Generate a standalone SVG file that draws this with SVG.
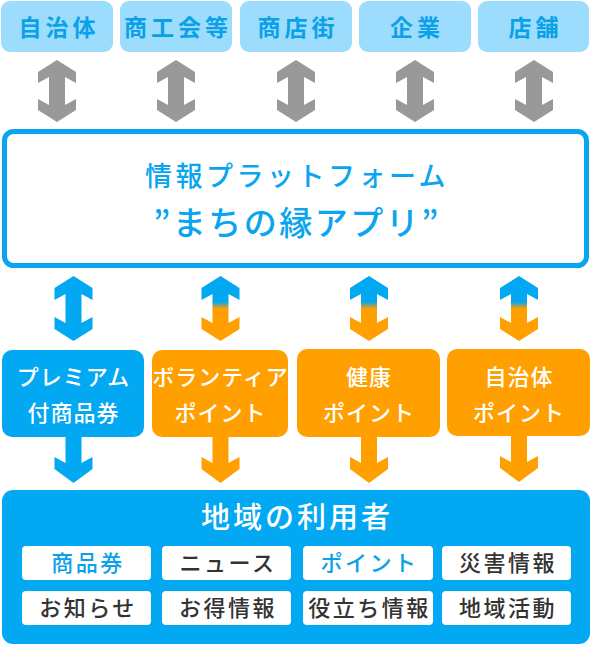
<svg xmlns="http://www.w3.org/2000/svg" width="591" height="645" viewBox="0 0 591 645">
<style>
text{font-family:"Noto Sans CJK JP","Noto Sans",sans-serif;text-anchor:middle}
.top{fill:#9cdcfd}
.toptxt{fill:#0aa1e8;font-size:23px;font-weight:700;letter-spacing:4px}
.main{fill:#fff;stroke:#0aa5f0;stroke-width:5}
.mtxt{fill:#0aa5f0;font-weight:500}
.blue{fill:#02a8f2}
.orange{fill:#ffa000}
.wtxt{fill:#fff;font-size:22px;font-weight:500;letter-spacing:1px}
.chip{fill:#fff}
.ctxt{font-size:22px;font-weight:500;letter-spacing:2.5px;fill:#333}
.ctxt.b{fill:#0aa1e8}
</style>
<defs>
<path id="dbl" d="M0,0 L19,12 L19,23 L8,17 L8,45 L19,39 L19,50 L0,62 L-19,50 L-19,39 L-8,45 L-8,17 L-19,23 L-19,12 Z"/>
<path id="dbl2" d="M0,0 L19,12 L19,24 L8,18 L8,47 L19,41 L19,53 L0,65 L-19,53 L-19,41 L-8,47 L-8,18 L-19,24 L-19,12 Z"/>
<path id="down" d="M-8,0 L8,0 L8,26 L19,20 L19,32 L0,46 L-19,32 L-19,20 L-8,26 Z"/>
<linearGradient id="bo" x1="0" y1="0" x2="0" y2="1">
<stop offset="0.40" stop-color="#02a8f2"/>
<stop offset="0.50" stop-color="#ffa000"/>
</linearGradient>
</defs>

<g id="top-jichitai"><rect class="top" x="1" y="1" width="112" height="51" rx="9"/><text class="toptxt" x="59" y="36">自治体</text></g>
<g id="top-shokokai"><rect class="top" x="120" y="1" width="112" height="51" rx="9"/><text class="toptxt" x="178" y="36">商工会等</text></g>
<g id="top-shotengai"><rect class="top" x="240" y="1" width="112" height="51" rx="9"/><text class="toptxt" x="298" y="36">商店街</text></g>
<g id="top-kigyo"><rect class="top" x="359" y="1" width="112" height="51" rx="9"/><text class="toptxt" x="417" y="36">企業</text></g>
<g id="top-tenpo"><rect class="top" x="478" y="1" width="111" height="51" rx="9"/><text class="toptxt" x="535.5" y="36">店舗</text></g>

<g id="platform">
<rect class="main" x="4.5" y="131.5" width="582" height="134" rx="9"/>
<text class="mtxt" x="297" y="186" font-size="27" letter-spacing="3.5">情報プラットフォーム</text>
<text class="mtxt" x="297" y="235" font-size="33" letter-spacing="2.5">”まちの縁アプリ”</text>
</g>

<g id="mid-premium"><rect class="blue" x="2" y="350" width="142" height="87" rx="10"/><text class="wtxt" x="73.5" y="385">プレミアム</text><text class="wtxt" x="73.5" y="421">付商品券</text></g>
<g id="mid-volunteer"><rect class="orange" x="152" y="350" width="136" height="87" rx="10"/><text class="wtxt" x="220.5" y="385">ボランティア</text><text class="wtxt" x="220.5" y="421">ポイント</text></g>
<g id="mid-kenko"><rect class="orange" x="297" y="349" width="143" height="88" rx="10"/><text class="wtxt" x="369" y="385">健康</text><text class="wtxt" x="369" y="421">ポイント</text></g>
<g id="mid-jichitai"><rect class="orange" x="447" y="349" width="143" height="87" rx="10"/><text class="wtxt" x="519" y="385">自治体</text><text class="wtxt" x="519" y="421">ポイント</text></g>

<g id="users">
<rect class="blue" x="2" y="490" width="588" height="154" rx="11"/>
<text x="297" y="528" font-size="29" font-weight="500" letter-spacing="3" fill="#fff">地域の利用者</text>
<rect class="chip" x="22" y="546" width="129" height="34" rx="4"/><text class="ctxt b" x="88" y="571">商品券</text>
<rect class="chip" x="162" y="546" width="129" height="34" rx="4"/><text class="ctxt" x="228" y="571">ニュース</text>
<rect class="chip" x="303" y="546" width="130" height="34" rx="4"/><text class="ctxt b" x="369.5" y="571">ポイント</text>
<rect class="chip" x="442" y="546" width="129" height="34" rx="4"/><text class="ctxt" x="508" y="571">災害情報</text>
<rect class="chip" x="22" y="591" width="129" height="34" rx="4"/><text class="ctxt" x="88" y="616">お知らせ</text>
<rect class="chip" x="162" y="591" width="129" height="34" rx="4"/><text class="ctxt" x="228" y="616">お得情報</text>
<rect class="chip" x="303" y="591" width="130" height="34" rx="4"/><text class="ctxt" x="369.5" y="616">役立ち情報</text>
<rect class="chip" x="442" y="591" width="129" height="34" rx="4"/><text class="ctxt" x="508" y="616">地域活動</text>
</g>

<g id="connectors">
<g fill="#999">
<use href="#dbl" x="57" y="60"/>
<use href="#dbl" x="176" y="60"/>
<use href="#dbl" x="296" y="60"/>
<use href="#dbl" x="415" y="60"/>
<use href="#dbl" x="534" y="60"/>
</g>
<use href="#dbl2" x="73.5" y="276" fill="#02a8f2"/>
<use href="#dbl2" x="220.5" y="276" fill="url(#bo)"/>
<use href="#dbl2" x="369" y="276" fill="url(#bo)"/>
<use href="#dbl2" x="519" y="276" fill="url(#bo)"/>
<use href="#down" x="73.5" y="437" fill="#02a8f2"/>
<use href="#down" x="220.5" y="437" fill="#ffa000"/>
<use href="#down" x="369" y="437" fill="#ffa000"/>
<use href="#down" x="519" y="436" fill="#ffa000"/>
</g>
</svg>
